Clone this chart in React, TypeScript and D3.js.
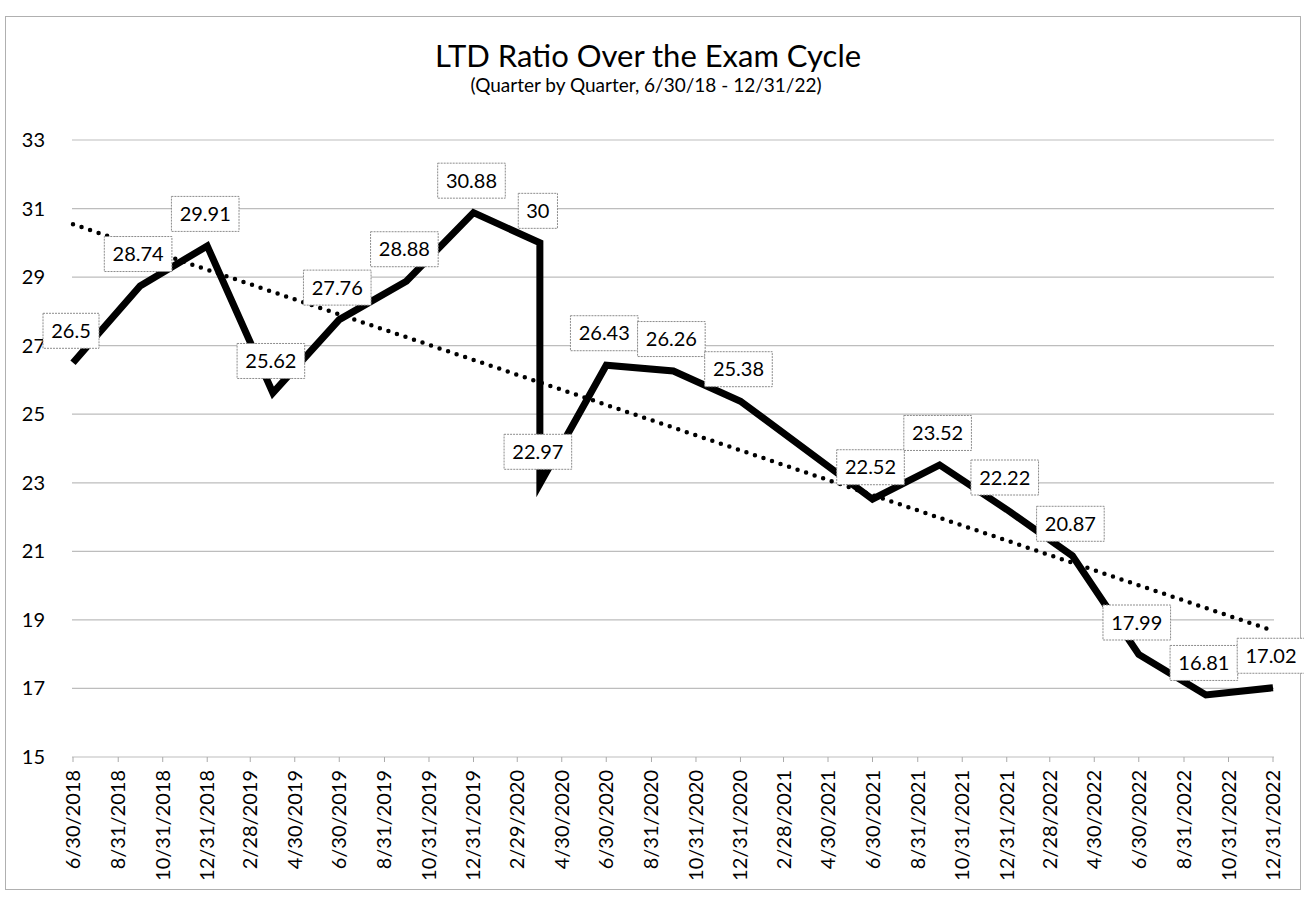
import React from "react";
import * as d3 from "d3";

const pointDates = [
  "2018-06-30", "2018-09-30", "2018-12-31", "2019-03-31", "2019-06-30",
  "2019-09-30", "2019-12-31", "2020-03-31", "2020-03-31", "2020-06-30",
  "2020-09-30", "2020-12-31", "2021-06-30", "2021-09-30", "2021-12-31",
  "2022-03-31", "2022-06-30", "2022-09-30", "2022-12-31",
];
const ltdValues = [
  26.5, 28.74, 29.91, 25.62, 27.76, 28.88, 30.88, 30, 22.97, 26.43,
  26.26, 25.38, 22.52, 23.52, 22.22, 20.87, 17.99, 16.81, 17.02,
];
const tickLabels = [
  "6/30/2018", "8/31/2018", "10/31/2018", "12/31/2018", "2/28/2019", "4/30/2019",
  "6/30/2019", "8/31/2019", "10/31/2019", "12/31/2019", "2/29/2020", "4/30/2020",
  "6/30/2020", "8/31/2020", "10/31/2020", "12/31/2020", "2/28/2021", "4/30/2021",
  "6/30/2021", "8/31/2021", "10/31/2021", "12/31/2021", "2/28/2022", "4/30/2022",
  "6/30/2022", "8/31/2022", "10/31/2022", "12/31/2022",
];
const yTicks = [15, 17, 19, 21, 23, 25, 27, 29, 31, 33];

const title = "LTD Ratio Over the Exam Cycle";
const subtitle = "(Quarter by Quarter, 6/30/18 - 12/31/22)";

const FONT = "Lato, 'Open Sans', sans-serif";

export default function App() {
  const W = 1304, H = 898;
  const parse = d3.utcParse("%Y-%m-%d");
  const parseTick = d3.utcParse("%m/%d/%Y");
  const data = pointDates.map((d, i) => ({ date: parse(d) as Date, value: ltdValues[i] }));
  const ticks = tickLabels.map((t) => ({ label: t, date: parseTick(t) as Date }));

  const x = d3.scaleUtc()
    .domain([ticks[0].date, ticks[ticks.length - 1].date])
    .range([73, 1273]);
  const y = d3.scaleLinear().domain([15, 33]).range([757, 140]);

  const line = d3.line<{ date: Date; value: number }>()
    .x((d) => x(d.date))
    .y((d) => y(d.value));

  // linear regression over dates (trendline)
  const xs = data.map((d) => +d.date);
  const ys = data.map((d) => d.value);
  const xm = d3.mean(xs) as number;
  const ym = d3.mean(ys) as number;
  let num = 0, den = 0;
  xs.forEach((xv, i) => { num += (xv - xm) * (ys[i] - ym); den += (xv - xm) ** 2; });
  const slope = num / den;
  const intercept = ym - slope * xm;
  const t0 = +ticks[0].date, t1 = +ticks[ticks.length - 1].date;
  const trend = [
    { date: new Date(t0), value: intercept + slope * t0 },
    { date: new Date(t1), value: intercept + slope * t1 },
  ];

  const labelFs = 20;
  const textW = (s: string) =>
    s.split("").reduce((a, c) => a + (c === "." ? 0.26 : 0.58) * labelFs, 0);

  return (
    <svg width={W} height={H} viewBox={`0 0 ${W} ${H}`}
      style={{ position: "absolute", left: 0, top: 0, background: "#fff" }}
      fontFamily={FONT}>
      <rect x={0} y={0} width={W} height={H} fill="#fff" />
      <rect x={5.5} y={16.5} width={1295} height={873} fill="none" stroke="#b0b0b0" strokeWidth={1} />

      <text x={648} y={67} textAnchor="middle" fontSize={31} fill="#000">{title}</text>
      <text x={646} y={92} textAnchor="middle" fontSize={19} fill="#000">{subtitle}</text>

      {yTicks.map((v) => (
        <g key={v}>
          <line x1={72} x2={1274} y1={y(v)} y2={y(v)} stroke="#bdbdbd" strokeWidth={1.2} />
          <text x={45} y={y(v) + 7} textAnchor="end" fontSize={20} fill="#000">{v}</text>
        </g>
      ))}

      {ticks.map((t) => (
        <g key={t.label} transform={`translate(${x(t.date)},0)`}>
          <line y1={757} y2={762} stroke="#aaa" strokeWidth={1} />
          <text transform={`translate(7,770) rotate(-90)`} textAnchor="end" fontSize={20} fill="#000">
            {t.label}
          </text>
        </g>
      ))}

      <path d={line(trend) as string} fill="none" stroke="#000" strokeWidth={4.5}
        strokeDasharray="0 9" strokeLinecap="round" />

      <path d={line(data) as string} fill="none" stroke="#000" strokeWidth={7}
        strokeLinejoin="miter" strokeMiterlimit={10} />

      {data.map((d, i) => {
        const s = String(d.value);
        const tw = textW(s);
        const bw = tw + 16;
        const bh = 35;
        const cx = x(d.date) - 2;
        const cy = y(d.value) - 32;
        return (
          <g key={i}>
            <rect x={cx - bw / 2} y={cy - bh / 2} width={bw} height={bh}
              fill="#fff" stroke="#8c8c8c" strokeWidth={1} strokeDasharray="2 1" />
            <text x={cx} y={cy + 7} textAnchor="middle" fontSize={labelFs} fill="#000">{s}</text>
          </g>
        );
      })}
    </svg>
  );
}
